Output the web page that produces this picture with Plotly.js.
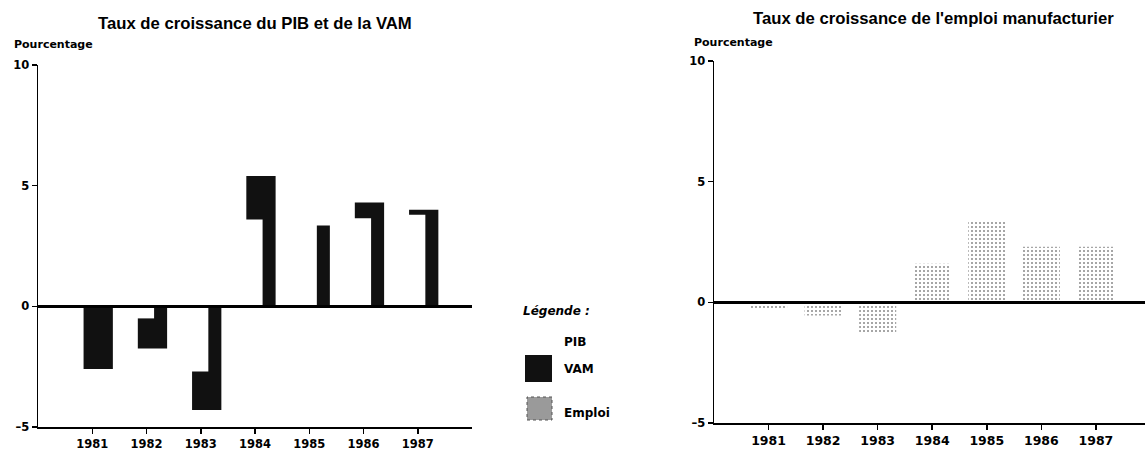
<!DOCTYPE html>
<html><head><meta charset="utf-8">
<script src="https://cdn.plot.ly/plotly-3.0.1.min.js"></script>
<style>html,body{margin:0;padding:0;background:#fff}</style>
</head><body>
<div id="chart" style="width:1145px;height:450px"></div>
<script>
const years = [1981, 1982, 1983, 1984, 1985, 1986, 1987];
const yearLabels = ['1981', '1982', '1983', '1984', '1985', '1986', '1987'];
const pib = [0.2, -0.5, -2.7, 3.6, 3.5, 3.65, 3.8];
const vam = [-2.6, -1.75, -4.3, 5.4, 3.35, 4.3, 4.0];
const emploi = [-0.3, -0.55, -1.25, 1.6, 3.4, 2.3, 2.3];
const yTickVals = [-5, 0, 5, 10];
const yTickText = ['–5', '0', '5', '10'];
const legendLabels = ['PIB', 'VAM', 'Emploi'];
const legendTitle = 'Légende :';

const W = 1145, H = 450;
const px = v => v / W;
const py = v => 1 - v / H;

const tickFontL = {family: 'DejaVu Sans', size: 11.5, color: '#000', weight: 'bold'};
const tickFontR = {family: 'DejaVu Sans', size: 12.5, color: '#000', weight: 'bold'};
const titleFont = {family: 'Liberation Sans', size: 16.7, color: '#000', weight: 'bold'};
const smallFont = {family: 'DejaVu Sans', size: 11, color: '#000', weight: 'bold'};
const legFont = {family: 'DejaVu Sans', size: 12, color: '#000', weight: 'bold'};

const traces = [
  {type: 'bar', name: legendLabels[1], x: years, y: vam, xaxis: 'x', yaxis: 'y',
   width: 0.54, offset: -0.16, marker: {color: '#111', line: {width: 0}}},
  {type: 'bar', name: legendLabels[0], x: years, y: pib, xaxis: 'x', yaxis: 'y',
   width: 0.34, offset: -0.2, marker: {color: '#ffffff', line: {width: 0}}},
  {type: 'bar', name: legendLabels[2], x: years, y: emploi, xaxis: 'x2', yaxis: 'y2',
   width: 0.68, marker: {color: '#ffffff', line: {width: 0},
     pattern: {shape: '.', fgcolor: '#888', bgcolor: '#ffffff', size: 4, solidity: 0.2}}}
];

const xCommon = {
  type: 'linear', tickvals: years, ticktext: yearLabels, ticks: 'outside', ticklen: 5,
  tickwidth: 1.5, tickcolor: '#000', showline: true, linewidth: 2, linecolor: '#000',
  showgrid: false, zeroline: false, fixedrange: true
};
const yCommon = {
  range: [-5, 10], tickvals: yTickVals, ticktext: yTickText, ticks: 'outside', ticklen: 5,
  tickwidth: 1.5, tickcolor: '#000', showline: true, linewidth: 1.5, linecolor: '#000',
  showgrid: false, zeroline: true, zerolinecolor: '#000', zerolinewidth: 2.5,
  zerolinelayer: 'above traces', fixedrange: true
};

const legendTextAnn = (txt, x, y, font) => ({text: txt, xref: 'paper', yref: 'paper',
  x: px(x), y: py(y), xanchor: 'left', yanchor: 'middle', showarrow: false, font: font});

const layout = {
  width: W, height: H,
  margin: {l: 0, r: 0, t: 0, b: 0},
  paper_bgcolor: '#fff', plot_bgcolor: '#fff',
  barmode: 'overlay',
  showlegend: false,
  xaxis: Object.assign({}, xCommon, {domain: [px(38), px(472)], range: [1980, 1988], anchor: 'y', tickfont: tickFontL}),
  yaxis: Object.assign({}, yCommon, {domain: [1 - 427 / H, 1 - 65 / H], anchor: 'x', tickfont: tickFontL}),
  xaxis2: Object.assign({}, xCommon, {domain: [px(714), 1], range: [1980, 1987.9], anchor: 'y2', tickfont: tickFontR}),
  yaxis2: Object.assign({}, yCommon, {domain: [1 - 423 / H, 1 - 61 / H], anchor: 'x2', tickfont: tickFontL}),
  shapes: [
    {type: 'rect', xref: 'paper', yref: 'paper', x0: px(525), x1: px(552), y0: py(382), y1: py(355),
     fillcolor: '#111', line: {width: 0}},
    {type: 'rect', xref: 'paper', yref: 'paper', x0: px(527), x1: px(552), y0: py(420), y1: py(397),
     fillcolor: '#9a9a9a', line: {width: 1, color: '#555', dash: 'dot'}}
  ],
  annotations: [
    {text: 'Taux de croissance du PIB et de la VAM', xref: 'paper', yref: 'paper',
     x: px(255), y: py(23), xanchor: 'center', yanchor: 'middle', showarrow: false, font: titleFont},
    {text: "Taux de croissance de l'emploi manufacturier", xref: 'paper', yref: 'paper',
     x: px(934), y: py(18), xanchor: 'center', yanchor: 'middle', showarrow: false, font: titleFont},
    {text: 'Pourcentage', xref: 'paper', yref: 'paper', x: px(12), y: py(45),
     xanchor: 'left', yanchor: 'middle', showarrow: false, font: smallFont},
    {text: 'Pourcentage', xref: 'paper', yref: 'paper', x: px(692), y: py(42),
     xanchor: 'left', yanchor: 'middle', showarrow: false, font: smallFont},
    legendTextAnn(legendTitle, 521, 311, Object.assign({}, legFont, {style: 'italic'})),
    legendTextAnn(legendLabels[0], 562, 342, legFont),
    legendTextAnn(legendLabels[1], 562, 369, legFont),
    legendTextAnn(legendLabels[2], 562, 413, legFont)
  ]
};

Plotly.newPlot('chart', traces, layout, {staticPlot: true, displayModeBar: false});
</script>
</body></html>
